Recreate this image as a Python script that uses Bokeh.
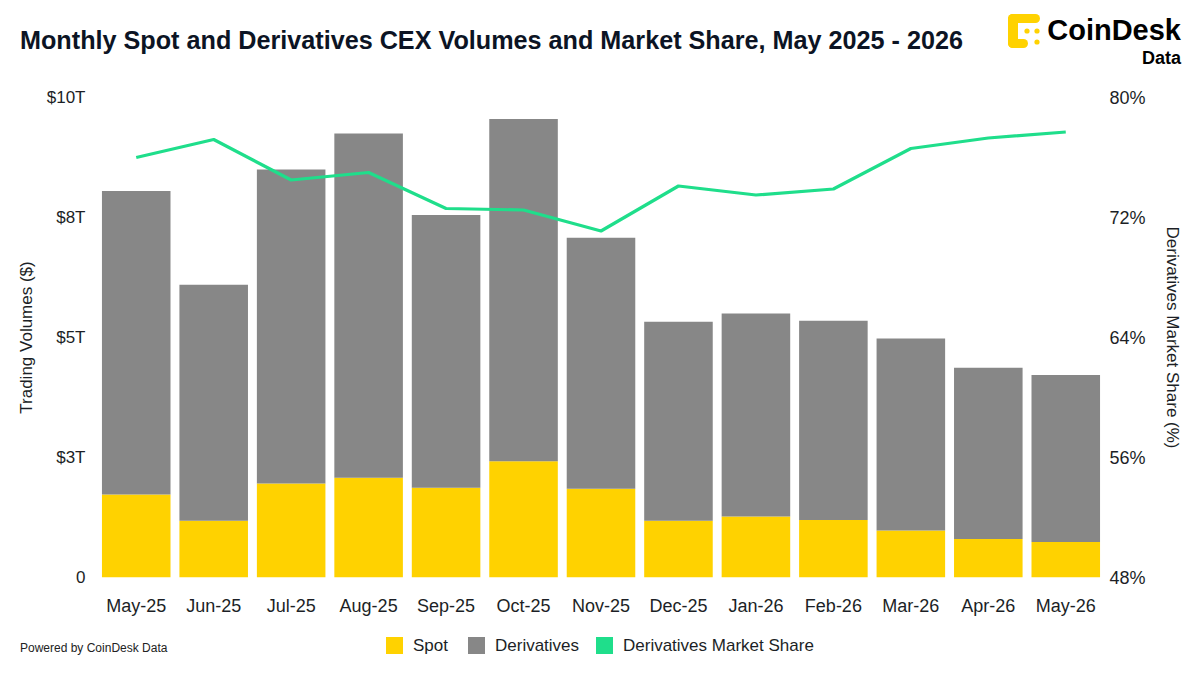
from bokeh.plotting import figure
from bokeh.layouts import column
from bokeh.models import (ColumnDataSource, FactorRange, Range1d, LinearAxis,
                          FixedTicker, Div)
from bokeh.embed import file_html
from bokeh.resources import INLINE

# ---------------- data (trillions of USD / percent) ----------------
months = ["May-25", "Jun-25", "Jul-25", "Aug-25", "Sep-25", "Oct-25", "Nov-25",
          "Dec-25", "Jan-26", "Feb-26", "Mar-26", "Apr-26", "May-26"]
spot = [1.73, 1.18, 1.96, 2.08, 1.87, 2.42, 1.85, 1.18, 1.27, 1.20, 0.98, 0.80, 0.74]
derivatives = [6.32, 4.92, 6.54, 7.17, 5.68, 7.13, 5.23, 4.15, 4.23, 4.15, 4.00, 3.57, 3.48]
share = [76.0, 77.2, 74.5, 75.0, 72.6, 72.5, 71.1, 74.1, 73.5, 73.9, 76.6, 77.3, 77.7]

vol_ticks = [0, 2.5, 5, 7.5, 10]
vol_tick_labels = ["0", "$3T", "$5T", "$8T", "$10T"]
share_ticks = [48, 56, 64, 72, 80]
share_tick_labels = ["48%", "56%", "64%", "72%", "80%"]

title_text = "Monthly Spot and Derivatives CEX Volumes and Market Share, May 2025 - 2026"
series_names = ["Spot", "Derivatives", "Derivatives Market Share"]

# ---------------- styling ----------------
FONT = "Liberation Sans"
YELLOW = "#FFD200"
GRAY = "#878787"
GREEN = "#1FDE8B"
TXT = "#1c1f26"
series_colors = [YELLOW, GRAY, GREEN]

W = 1184
HEAD_H = 80      # block height of the header (Div adds 5px margins)
MAIN_H = 545
FOOT_H = 659 - HEAD_H - MAIN_H

# ---------------- header ----------------
header_html = f"""
<div style="position:relative;width:{W}px;height:{HEAD_H - 10}px;font-family:'{FONT}',Arial,sans-serif;">
  <div style="position:absolute;left:15px;top:23px;font-size:25.2px;line-height:25px;font-weight:bold;color:#0c1424;white-space:nowrap;">{title_text}</div>
  <svg style="position:absolute;left:1001px;top:8px;" width="36" height="36" viewBox="0 0 36 36">
    <rect x="2" y="1" width="32" height="9" rx="4.5" fill="{YELLOW}"/>
    <rect x="2" y="1" width="10" height="34" rx="5" fill="{YELLOW}"/>
    <rect x="2" y="26" width="20" height="9" rx="4.5" fill="{YELLOW}"/>
    <circle cx="21" cy="18" r="2.6" fill="{YELLOW}"/>
    <circle cx="31" cy="18" r="2.6" fill="{YELLOW}"/>
    <circle cx="31" cy="29" r="2.6" fill="{YELLOW}"/>
  </svg>
  <div style="position:absolute;right:8px;top:11px;font-size:29px;line-height:29px;font-weight:bold;color:#000;white-space:nowrap;">CoinDesk</div>
  <div style="position:absolute;right:8px;top:44px;font-size:18px;line-height:18px;font-weight:bold;color:#000;white-space:nowrap;">Data</div>
</div>
"""
header = Div(text=header_html, width=W, height=HEAD_H - 10)

# ---------------- main chart ----------------
source = ColumnDataSource(dict(month=months, spot=spot, derivatives=derivatives,
                               share=share))

p = figure(width=W, height=MAIN_H, x_range=FactorRange(*months), y_range=Range1d(0, 10),
           output_backend="svg", toolbar_location=None,
           min_border_left=97, min_border_right=76, min_border_top=97 - HEAD_H,
           min_border_bottom=MAIN_H - (577 - HEAD_H))
p.outline_line_color = None
p.xgrid.grid_line_color = None
p.ygrid.grid_line_color = None
p.background_fill_color = "white"
p.border_fill_color = "white"
p.extra_y_ranges = {"share": Range1d(48, 80)}

p.vbar_stack(["spot", "derivatives"], x="month", width=0.885,
             color=[YELLOW, GRAY], line_color=None, source=source)
p.line(x="month", y="share", y_range_name="share", source=source,
       line_color=GREEN, line_width=3.2)

xa = p.xaxis[0]
xa.axis_line_color = None
xa.major_tick_line_color = None
xa.minor_tick_line_color = None
xa.major_tick_out = 0
xa.major_label_standoff = 18
xa.major_label_text_font = FONT
xa.major_label_text_font_size = "18px"
xa.major_label_text_color = TXT

ya = p.yaxis[0]
ya.ticker = FixedTicker(ticks=vol_ticks)
ya.major_label_overrides = {k: v for k, v in zip(vol_ticks, vol_tick_labels)}
ya.axis_line_color = None
ya.major_tick_line_color = None
ya.minor_tick_line_color = None
ya.major_tick_out = 0
ya.major_label_standoff = 12
ya.major_label_text_font = FONT
ya.major_label_text_font_size = "17px"
ya.major_label_text_color = TXT
ya.axis_label = "Trading Volumes ($)"
ya.axis_label_text_font = FONT
ya.axis_label_text_font_size = "17px"
ya.axis_label_text_font_style = "normal"
ya.axis_label_text_color = TXT
ya.axis_label_standoff = 8

ra = LinearAxis(y_range_name="share", ticker=FixedTicker(ticks=share_ticks),
                major_label_overrides={k: v for k, v in zip(share_ticks, share_tick_labels)})
ra.axis_line_color = None
ra.major_tick_line_color = None
ra.minor_tick_line_color = None
ra.major_tick_out = 0
ra.major_label_standoff = 5
ra.major_label_text_font = FONT
ra.major_label_text_font_size = "18px"
ra.major_label_text_color = TXT
ra.axis_label = "Derivatives Market Share (%)"
ra.axis_label_text_font = FONT
ra.axis_label_text_font_size = "17px"
ra.axis_label_text_font_style = "normal"
ra.axis_label_text_color = TXT
ra.axis_label_standoff = 14
p.add_layout(ra, "right")

# ---------------- footer: legend and credit ----------------
swatch_left = [381, 463, 591]
label_left = [408, 490, 618]
items = "".join(
    f'<div style="position:absolute;left:{sx}px;top:7px;width:17px;height:17px;background:{c};"></div>'
    f'<div style="position:absolute;left:{lx}px;top:7px;font-size:17px;line-height:17px;color:{TXT};white-space:nowrap;">{n}</div>'
    for sx, lx, c, n in zip(swatch_left, label_left, series_colors, series_names))
footer_html = f"""
<div style="position:relative;width:{W}px;height:{FOOT_H - 10}px;font-family:'{FONT}',Arial,sans-serif;">
  <div style="position:absolute;left:15px;top:12px;font-size:12px;line-height:12px;color:#222222;white-space:nowrap;">Powered by CoinDesk Data</div>
  {items}
</div>
"""
footer = Div(text=footer_html, width=W, height=FOOT_H - 10)

layout = column(header, p, footer, spacing=0)
open("out.html", "w").write(file_html(layout, INLINE))
